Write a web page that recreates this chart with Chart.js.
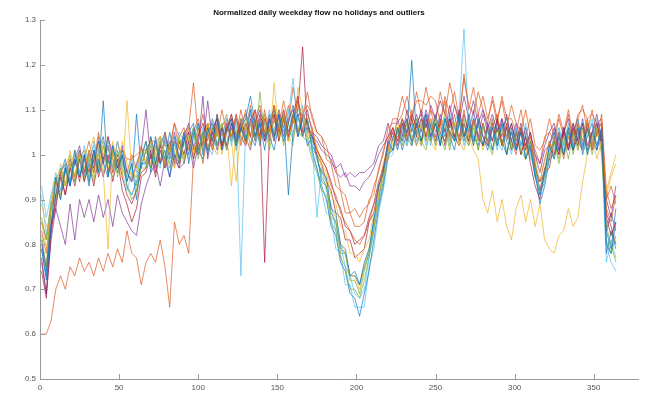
<!DOCTYPE html>
<html>
<head>
<meta charset="utf-8">
<script src="https://cdn.jsdelivr.net/npm/chart.js@4/dist/chart.umd.min.js"></script>
<style>
  html, body { margin: 0; padding: 0; background: #ffffff; }
  #wrap { width: 654px; height: 393px; }
</style>
</head>
<body>
<div id="wrap"><canvas id="chart" width="654" height="393"></canvas></div>
<script>
// Day of year for each sample (every third day)
const days = [
  1,4,7,10,13,16,19,22,25,28,
  31,34,37,40,43,46,49,52,55,58,
  61,64,67,70,73,76,79,82,85,88,
  91,94,97,100,103,106,109,112,115,118,
  121,124,127,130,133,136,139,142,145,148,
  151,154,157,160,163,166,169,172,175,178,
  181,184,187,190,193,196,199,202,205,208,
  211,214,217,220,223,226,229,232,235,238,
  241,244,247,250,253,256,259,262,265,268,
  271,274,277,280,283,286,289,292,295,298,
  301,304,307,310,313,316,319,322,325,328,
  331,334,337,340,343,346,349,352,355,358,
  361,364
];

// Normalized weekday flow, one array per station
const flow01 = [
  0.79,0.72,0.84,0.95,0.90,0.97,0.93,1.01,0.95,0.99,
  0.93,1.01,0.96,1.12,0.95,1.02,0.97,1.00,0.94,0.98,
  0.90,0.99,1.03,0.96,1.04,0.98,1.01,0.95,1.04,0.99,
  1.05,0.98,1.04,1.07,1.00,1.06,1.03,1.09,1.01,1.05,
  1.08,1.02,1.06,1.03,1.10,1.04,1.07,1.01,1.08,1.04,
  1.09,1.03,1.07,1.11,1.04,1.08,1.02,1.04,0.99,0.96,
  0.95,0.88,0.87,0.80,0.79,0.73,0.74,0.71,0.76,0.79,
  0.85,0.93,0.96,1.03,1.01,1.06,1.03,1.08,1.02,1.07,
  1.03,1.09,1.04,1.07,1.02,1.08,1.05,1.03,1.09,1.04,
  1.07,1.02,1.08,1.04,1.01,1.06,1.02,1.07,1.00,1.05,
  1.01,1.05,0.99,1.02,0.95,0.91,0.96,1.02,0.99,1.04,
  1.00,1.06,1.01,1.04,1.07,1.00,1.05,1.02,1.06,0.80,
  0.78,0.85
];
const flow02 = [
  0.60,0.60,0.63,0.70,0.73,0.70,0.75,0.73,0.77,0.74,
  0.76,0.73,0.77,0.74,0.78,0.75,0.79,0.76,0.83,0.78,
  0.77,0.71,0.76,0.78,0.76,0.81,0.75,0.66,0.85,0.80,
  0.82,0.78,0.99,1.03,0.98,1.05,1.01,1.07,1.02,1.06,
  1.04,1.09,1.02,1.07,1.04,1.10,1.03,1.08,1.05,1.11,
  1.05,1.10,1.04,1.08,1.12,1.05,1.09,1.06,1.01,0.99,
  0.97,0.93,0.91,0.87,0.85,0.83,0.81,0.80,0.82,0.85,
  0.89,0.92,0.98,1.01,1.06,1.03,1.08,1.04,1.10,1.05,
  1.08,1.04,1.10,1.05,1.07,1.12,1.04,1.09,1.03,1.10,
  1.04,1.08,1.03,1.07,1.02,1.06,1.09,1.02,1.07,1.03,
  1.00,1.06,1.01,1.04,0.97,0.94,0.99,1.03,1.00,1.05,
  0.99,1.04,1.01,1.07,1.03,1.08,1.01,1.05,1.07,0.88,
  0.85,0.91
];
const flow03 = [
  0.85,0.79,0.88,0.95,0.96,0.93,1.01,0.95,1.00,0.97,
  1.01,0.95,1.02,0.96,0.79,1.01,0.97,1.03,0.98,0.95,
  0.97,1.01,0.98,1.03,0.99,1.04,0.98,1.02,0.97,1.04,
  0.99,1.04,1.00,1.06,1.01,1.07,1.03,1.06,1.00,1.05,
  0.93,1.05,1.08,1.02,1.07,1.04,1.03,1.08,1.02,1.16,
  1.04,1.09,1.03,1.08,1.05,1.10,1.03,1.06,1.01,0.97,
  0.94,0.88,0.86,0.80,0.78,0.73,0.73,0.70,0.75,0.79,
  0.84,0.91,0.95,1.01,1.02,1.06,1.03,1.08,1.04,1.02,
  1.07,1.03,1.08,1.02,1.06,1.09,1.03,1.07,1.02,1.05,
  1.04,1.01,0.99,0.90,0.87,0.92,0.85,0.90,0.84,0.81,
  0.88,0.91,0.85,0.90,0.84,0.89,0.81,0.79,0.78,0.82,
  0.83,0.88,0.84,0.86,0.94,1.00,1.04,0.99,1.03,0.92,
  0.96,1.00
];
const flow04 = [
  0.76,0.69,0.81,0.88,0.84,0.80,0.89,0.81,0.90,0.86,
  0.90,0.85,0.91,0.86,0.90,0.84,0.91,0.87,0.85,0.83,
  0.82,0.89,0.93,0.96,0.98,0.93,0.99,0.95,1.00,0.97,
  0.98,1.03,0.97,1.02,1.13,0.99,1.05,1.01,1.06,1.02,
  1.07,1.03,1.08,1.04,1.01,1.07,1.10,1.04,1.08,1.03,
  1.09,1.04,1.08,1.10,1.05,1.09,1.07,1.04,1.03,1.01,
  1.00,0.99,0.96,0.95,0.96,0.93,0.93,0.92,0.94,0.95,
  0.97,1.00,1.02,1.04,1.06,1.03,1.08,1.05,1.09,1.06,
  1.10,1.06,1.11,1.08,1.12,1.09,1.06,1.11,1.07,1.13,
  1.08,1.12,1.07,1.10,1.06,1.09,1.05,1.08,1.04,1.07,
  1.03,1.07,1.02,1.05,1.00,0.98,1.02,1.05,1.07,1.02,
  1.06,1.01,1.07,1.03,1.08,1.02,1.05,1.09,1.03,0.90,
  0.86,0.93
];
const flow05 = [
  0.82,0.75,0.89,0.90,0.97,0.93,0.98,0.94,1.00,0.95,
  0.99,0.94,1.00,1.03,0.96,1.01,0.95,1.00,0.93,0.90,
  0.92,0.97,0.97,1.02,0.97,1.03,0.98,1.02,0.97,1.04,
  0.99,1.03,1.06,1.00,1.05,1.01,1.06,1.02,1.07,1.01,
  1.06,1.02,1.08,1.03,1.07,1.03,1.14,1.04,1.06,1.10,
  1.04,1.08,1.03,1.09,1.05,1.04,1.08,1.01,1.00,0.95,
  0.93,0.86,0.85,0.78,0.78,0.72,0.72,0.69,0.74,0.78,
  0.84,0.91,0.95,1.02,1.01,1.06,1.02,1.07,1.03,1.08,
  1.02,1.07,1.03,1.08,1.04,1.01,1.07,1.03,1.08,1.04,
  1.02,1.07,1.01,1.06,1.03,1.00,1.06,1.02,1.07,1.01,
  1.05,1.01,0.99,1.03,0.97,0.92,0.95,1.00,1.03,0.99,
  1.04,0.99,1.05,1.01,1.06,1.00,1.04,1.06,1.00,0.84,
  0.80,0.76
];
const flow06 = [
  0.93,0.86,0.91,0.96,0.92,0.98,0.94,1.00,0.96,1.02,
  0.97,1.03,0.98,0.96,1.02,0.97,1.03,0.98,0.95,0.99,
  0.96,1.01,0.97,1.03,0.99,0.97,1.04,0.98,1.02,1.05,
  1.03,0.99,1.05,1.00,1.06,1.02,1.00,1.07,1.03,1.08,
  1.02,1.07,0.73,1.06,1.09,1.03,1.07,1.04,1.10,1.03,
  1.09,1.05,1.10,1.04,1.08,1.11,1.04,1.03,0.86,0.97,
  0.92,0.89,0.83,0.80,0.75,0.73,0.69,0.68,0.70,0.77,
  0.83,0.90,0.94,1.00,1.04,1.01,1.06,1.02,1.07,1.03,
  1.07,1.02,1.06,1.09,1.03,1.07,1.02,1.06,1.08,1.02,
  1.06,1.09,1.03,1.07,1.02,1.06,1.01,1.07,1.03,1.00,
  1.06,1.02,1.07,1.00,0.98,0.91,0.94,1.00,1.04,1.06,
  1.01,1.06,1.02,1.07,1.01,1.05,1.08,1.02,1.06,0.80,
  0.76,0.74
];
const flow07 = [
  0.74,0.68,0.82,0.91,0.96,0.91,0.97,0.93,0.99,0.94,
  0.98,0.93,0.99,0.95,1.00,0.94,0.99,0.92,0.89,0.85,
  0.88,0.95,0.96,1.00,0.95,1.01,0.97,1.02,0.98,1.03,
  1.00,1.05,0.99,1.04,1.07,1.01,1.05,1.08,1.02,1.06,
  1.08,1.03,1.07,1.02,1.08,1.04,1.09,1.03,1.07,1.09,
  1.03,1.08,1.04,1.09,1.13,1.05,1.06,1.04,1.01,0.99,
  0.97,0.94,0.90,0.88,0.84,0.83,0.80,0.81,0.82,0.86,
  0.89,0.94,0.97,1.03,1.06,1.02,1.07,1.03,1.08,1.04,
  1.03,1.08,1.04,1.09,1.05,1.03,1.08,1.04,1.10,1.05,
  1.03,1.08,1.04,1.02,1.07,1.03,1.08,1.02,1.06,1.01,
  1.05,1.00,1.04,0.98,0.93,0.90,0.96,0.97,1.03,1.00,
  1.05,1.01,1.06,1.02,1.07,1.01,1.05,1.07,1.02,0.86,
  0.82,0.85
];
const flow08 = [
  0.79,0.73,0.84,0.91,0.92,0.97,0.93,0.99,0.95,1.00,
  0.94,0.99,1.03,0.98,0.95,1.01,0.96,1.00,0.93,0.91,
  0.94,0.98,0.98,1.04,0.98,1.03,0.99,1.05,1.00,0.98,
  1.04,1.00,1.06,1.01,0.99,1.05,1.07,1.02,1.06,1.01,
  1.07,1.02,1.06,1.08,1.13,1.07,1.02,1.08,1.04,1.01,
  1.07,1.09,0.91,1.05,1.09,1.04,1.08,1.01,0.97,0.93,
  0.90,0.84,0.82,0.76,0.74,0.69,0.68,0.64,0.69,0.74,
  0.81,0.88,0.93,1.00,1.01,1.06,1.01,1.05,1.07,1.02,
  1.06,1.09,1.03,1.07,1.02,1.08,1.04,1.01,1.07,1.03,
  1.08,1.03,1.07,1.02,1.06,1.01,1.07,1.03,1.00,1.06,
  1.01,1.05,0.99,1.03,0.96,0.89,0.93,0.99,1.00,1.05,
  1.00,1.05,1.01,1.06,1.00,1.04,1.07,1.01,1.05,0.78,
  0.83,0.79
];
const flow09 = [
  0.83,0.78,0.88,0.94,0.90,0.96,0.99,0.95,1.01,0.96,
  1.01,0.96,1.04,0.98,1.02,0.97,1.03,0.98,0.96,1.00,
  0.97,1.02,0.98,1.04,1.00,0.98,1.05,1.01,1.07,1.04,
  1.06,1.01,1.05,1.08,1.02,1.07,1.03,1.09,1.04,1.08,
  1.04,1.09,1.05,1.10,1.04,1.08,1.11,1.05,1.09,1.04,
  1.10,1.06,1.11,1.07,1.12,1.08,1.14,1.08,1.05,1.04,
  1.02,0.98,0.97,0.92,0.91,0.87,0.88,0.86,0.88,0.89,
  0.93,0.96,1.01,1.04,1.08,1.08,1.13,1.09,1.08,1.14,
  1.09,1.15,1.10,1.08,1.14,1.09,1.16,1.11,1.08,1.17,
  1.11,1.09,1.14,1.10,1.07,1.13,1.08,1.12,1.06,1.11,
  1.07,1.05,1.10,1.04,1.01,0.98,1.04,1.05,1.03,1.08,
  1.04,1.09,1.03,1.08,1.11,1.05,1.10,1.04,1.09,0.92,
  0.88,0.91
];
const flow10 = [
  0.89,0.84,0.85,0.93,0.98,0.93,0.97,1.01,0.96,0.94,
  1.00,1.04,0.97,1.02,0.96,1.03,0.98,0.95,1.12,0.96,
  0.95,0.99,1.03,0.98,1.02,1.04,0.97,1.01,1.03,0.98,
  1.04,1.06,1.00,1.05,1.01,1.07,1.02,1.00,1.06,1.09,
  1.03,0.94,1.06,1.08,1.02,1.07,1.03,1.09,1.04,1.08,
  1.03,1.08,1.04,1.02,1.15,1.10,1.05,1.03,1.02,0.98,
  0.96,0.91,0.89,0.84,0.83,0.78,0.78,0.76,0.79,0.81,
  0.87,0.90,0.97,0.99,1.03,1.07,1.03,1.02,1.08,1.04,
  1.02,1.07,1.03,1.01,1.06,1.08,1.02,1.07,1.03,1.01,
  1.06,1.02,1.07,1.01,1.05,1.08,1.02,1.06,1.00,1.05,
  1.01,1.05,1.00,1.04,0.99,0.96,0.98,1.03,0.99,1.04,
  1.00,1.04,1.07,1.01,1.05,1.08,1.02,1.06,1.01,0.91,
  0.95,0.98
];
const flow11 = [
  0.80,0.75,0.85,0.89,0.96,0.98,0.93,0.99,1.02,0.96,
  1.01,0.97,1.03,0.98,1.04,0.99,0.97,1.02,0.96,0.94,
  0.98,1.01,1.10,0.99,1.03,0.98,1.04,1.00,1.05,0.99,
  1.04,1.07,1.01,1.06,1.02,1.12,1.03,1.07,1.02,1.06,
  1.09,1.04,1.08,1.03,1.07,1.10,1.04,1.09,1.03,1.08,
  1.04,1.10,1.05,1.09,1.04,1.08,1.10,1.05,1.04,1.02,
  1.01,1.00,0.97,0.98,0.95,0.96,0.95,0.96,0.96,0.97,
  0.98,1.02,1.03,1.07,1.03,1.08,1.04,1.10,1.05,1.09,
  1.05,1.10,1.06,1.04,1.09,1.05,1.11,1.06,1.04,1.09,
  1.05,1.10,1.04,1.09,1.05,1.03,1.08,1.04,1.09,1.03,
  1.07,1.02,1.06,1.01,1.00,0.96,1.01,1.02,1.06,1.01,
  1.05,1.08,1.02,1.06,1.01,1.07,1.03,1.01,1.06,0.83,
  0.87,0.83
];
const flow12 = [
  0.86,0.81,0.90,0.95,0.91,0.97,1.00,0.94,0.99,1.01,
  0.95,1.00,0.96,1.02,0.97,0.95,1.01,0.97,0.94,0.98,
  0.93,0.98,1.01,0.97,1.02,0.98,1.03,0.97,1.01,1.03,
  0.98,1.03,1.05,0.99,1.04,1.06,1.01,1.05,1.07,1.02,
  1.06,1.01,1.05,1.07,1.02,1.08,1.03,1.07,1.01,1.06,
  1.08,1.02,1.07,1.03,1.09,1.04,1.03,0.99,0.96,0.92,
  0.91,0.85,0.83,0.77,0.75,0.70,0.70,0.68,0.72,0.77,
  0.83,0.89,0.94,1.01,1.01,1.05,1.08,1.04,1.02,1.07,
  1.03,1.01,1.06,1.08,1.02,1.06,1.01,1.07,1.03,1.08,
  1.02,1.06,1.01,1.07,1.03,1.01,1.06,1.02,1.07,1.01,
  1.05,1.00,1.04,0.99,0.98,0.94,0.96,1.01,1.03,0.98,
  1.03,1.06,1.00,1.05,1.01,1.06,1.00,1.05,1.03,0.81,
  0.78,0.82
];
const flow13 = [
  0.91,0.82,0.89,0.92,0.97,0.93,0.99,0.95,1.00,0.94,
  0.99,1.02,0.96,1.00,1.03,0.97,1.01,0.96,0.92,0.96,
  0.95,1.00,1.03,0.97,1.01,1.04,0.98,1.03,0.99,1.04,
  1.00,1.04,0.99,1.05,1.01,1.06,1.08,1.02,1.06,1.09,
  1.03,1.08,1.03,1.07,1.10,1.04,1.08,1.03,1.09,1.05,
  1.10,1.05,1.09,1.17,1.05,1.10,1.04,1.00,0.97,0.92,
  0.87,0.86,0.79,0.78,0.71,0.71,0.66,0.66,0.66,0.75,
  0.79,0.87,0.92,0.99,1.00,1.05,1.07,1.02,1.06,1.08,
  1.03,1.07,1.02,1.08,1.04,1.09,1.03,1.07,1.10,1.28,
  1.06,1.03,1.07,1.02,1.06,1.08,1.03,1.01,1.06,1.02,
  1.06,1.01,1.05,1.00,0.97,0.91,0.94,1.00,1.01,1.06,
  1.02,1.07,1.01,1.06,1.02,1.07,1.03,1.08,1.02,0.76,
  0.81,0.77
];
const flow14 = [
  0.77,0.69,0.84,0.88,0.95,0.91,0.97,0.99,0.94,1.00,
  0.96,1.01,0.95,0.99,1.02,0.96,1.00,0.95,0.91,0.89,
  0.92,0.96,0.97,1.01,0.96,1.02,0.98,1.03,0.99,0.97,
  1.03,1.06,1.02,1.00,1.05,1.07,1.02,1.06,1.01,1.07,
  1.03,1.08,1.04,1.02,1.07,1.03,1.08,0.76,1.04,1.09,
  1.05,1.09,1.04,1.08,1.10,1.24,1.05,1.05,1.00,0.98,
  0.94,0.92,0.87,0.86,0.81,0.81,0.77,0.78,0.79,0.85,
  0.87,0.93,0.96,1.02,1.05,1.01,1.06,1.08,1.03,1.07,
  1.09,1.04,1.08,1.03,1.07,1.02,1.08,1.04,1.02,1.07,
  1.03,1.07,1.09,1.04,1.02,1.07,1.03,1.08,1.03,1.07,
  1.02,1.06,1.01,1.05,0.98,0.92,0.97,0.99,1.04,1.00,
  1.06,1.02,1.07,1.03,1.01,1.06,1.02,1.07,1.03,0.87,
  0.84,0.80
];
const flow15 = [
  0.81,0.74,0.88,0.91,0.96,0.99,0.94,0.98,1.01,0.95,
  1.00,0.96,1.01,1.04,0.98,1.02,0.97,1.01,0.96,0.94,
  1.09,0.97,1.01,1.03,0.98,1.02,1.05,0.99,1.03,0.98,
  1.03,1.05,1.07,1.01,1.05,1.00,1.06,1.08,1.02,1.06,
  1.07,1.03,1.07,1.09,1.04,1.02,1.07,1.03,1.08,1.10,
  1.04,1.08,1.03,1.07,1.09,1.04,1.08,1.02,1.00,0.94,
  0.93,0.87,0.85,0.79,0.78,0.73,0.73,0.71,0.75,0.78,
  0.86,0.89,0.97,0.99,1.04,1.04,1.05,1.05,1.21,1.04,
  1.08,1.03,1.07,1.02,1.08,1.04,1.09,1.03,1.07,1.04,
  1.09,1.04,1.02,1.07,1.03,1.08,1.02,1.06,1.08,1.03,
  1.01,1.06,1.02,1.01,0.95,0.94,0.96,1.02,1.05,1.01,
  1.06,1.01,1.05,1.08,1.02,1.06,1.01,1.06,1.07,0.83,
  0.79,0.88
];
const flow16 = [
  0.85,0.81,0.88,0.95,0.96,0.96,0.98,0.98,1.00,0.99,
  1.03,0.98,1.05,0.99,1.04,1.00,1.00,1.01,0.99,0.99,
  1.00,1.01,1.01,1.03,1.03,1.04,1.02,1.02,1.07,1.01,
  1.05,1.06,1.16,1.04,1.09,1.03,1.08,1.04,1.10,1.05,
  1.09,1.04,1.10,1.05,1.11,1.06,1.04,1.10,1.05,1.11,
  1.06,1.12,1.07,1.15,1.09,1.09,1.11,1.09,1.05,1.04,
  0.99,0.98,0.93,0.92,0.87,0.87,0.84,0.84,0.85,0.90,
  0.91,0.97,1.00,1.06,1.07,1.07,1.09,1.13,1.08,1.12,
  1.12,1.11,1.13,1.12,1.07,1.13,1.09,1.14,1.08,1.18,
  1.10,1.15,1.09,1.13,1.08,1.12,1.07,1.13,1.08,1.08,
  1.05,1.10,1.04,1.08,1.02,1.01,1.03,1.08,1.04,1.09,
  1.05,1.10,1.04,1.09,1.10,1.08,1.09,1.07,1.08,0.90,
  0.93,0.89
];

const stations = [flow01, flow02, flow03, flow04, flow05, flow06, flow07, flow08,
                  flow09, flow10, flow11, flow12, flow13, flow14, flow15, flow16];

// Axis tick positions and the default line colour order
const xTicks = [0, 50, 100, 150, 200, 250, 300, 350];
const yTicks = [0.5, 0.6, 0.7, 0.8, 0.9, 1.0, 1.1, 1.2, 1.3];
const lineColors = ['#0072BD', '#D95319', '#EDB120', '#7E2F8E', '#77AC30', '#4DBEEE', '#A2142F'];

function withAlpha(hex, a) {
  const n = parseInt(hex.slice(1), 16);
  return `rgba(${(n >> 16) & 255},${(n >> 8) & 255},${n & 255},${a})`;
}

const datasets = stations.map((vals, k) => ({
  data: days.map((d, i) => ({ x: d, y: vals[i] })),
  borderColor: withAlpha(lineColors[k % lineColors.length], 0.75),
  borderWidth: 0.9,
  pointRadius: 0,
  tension: 0,
  fill: false
}));

// Short tick marks pointing into the plot area
const innerTicks = {
  id: 'innerTicks',
  afterDraw(chart) {
    const { ctx, chartArea: a, scales: { x, y } } = chart;
    ctx.save();
    ctx.strokeStyle = '#9a9a9a';
    ctx.lineWidth = 1;
    ctx.beginPath();
    xTicks.forEach(v => {
      const px = Math.round(x.getPixelForValue(v)) + 0.5;
      ctx.moveTo(px, a.bottom);
      ctx.lineTo(px, a.bottom - 5);
    });
    yTicks.forEach(v => {
      const py = Math.round(y.getPixelForValue(v)) + 0.5;
      ctx.moveTo(a.left, py);
      ctx.lineTo(a.left + 5, py);
    });
    ctx.stroke();
    ctx.restore();
  }
};

const tickFont = { family: "'Liberation Sans', Arial, sans-serif", size: 8 };

new Chart(document.getElementById('chart'), {
  type: 'line',
  data: { datasets },
  options: {
    responsive: false,
    devicePixelRatio: 1,
    animation: false,
    layout: { padding: { left: 0, right: 16, top: 0, bottom: 0 } },
    plugins: {
      legend: { display: false },
      tooltip: { enabled: false },
      title: {
        display: true,
        text: 'Normalized daily weekday flow no holidays and outliers',
        color: '#111111',
        font: { family: "'Liberation Sans', Arial, sans-serif", size: 8, weight: 'bold', lineHeight: 1.2 },
        padding: { top: 8, bottom: 2.4 }
      }
    },
    scales: {
      x: {
        type: 'linear',
        min: 0,
        max: 378,
        grid: { display: false, drawTicks: false },
        border: { display: true, color: '#9a9a9a', width: 1 },
        afterBuildTicks: s => { s.ticks = xTicks.map(v => ({ value: v })); },
        afterFit: s => { s.height = 14; },
        ticks: {
          color: '#555555',
          font: tickFont,
          padding: 4,
          maxRotation: 0,
          autoSkip: false,
          callback: v => String(v)
        }
      },
      y: {
        type: 'linear',
        min: 0.5,
        max: 1.3,
        grid: { display: false, drawTicks: false },
        border: { display: true, color: '#9a9a9a', width: 1 },
        afterBuildTicks: s => { s.ticks = yTicks.map(v => ({ value: v })); },
        afterFit: s => { s.width = 40; },
        ticks: {
          color: '#555555',
          font: tickFont,
          padding: 4,
          autoSkip: false,
          callback: v => String(Math.round(v * 10) / 10)
        }
      }
    }
  },
  plugins: [innerTicks]
});
</script>
</body>
</html>
